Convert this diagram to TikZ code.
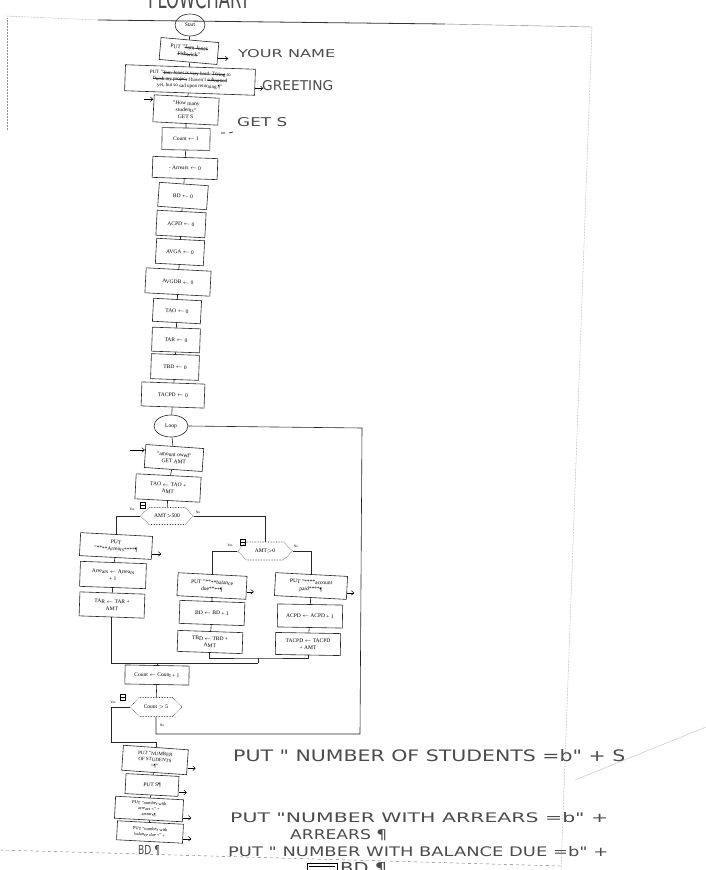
\documentclass[tikz,border=0pt]{standalone}
\usepackage{fontspec}
\setmainfont{Liberation Serif}
\newfontfamily\handfont{DejaVu Sans}
\usepackage{graphicx}
\usetikzlibrary{shapes.geometric,shapes.symbols,arrows.meta}
\tikzset{
  >=latex,
}
\newcommand{\boxfont}{\fontsize{5.5}{6.8}\selectfont}
\newcommand{\hw}[3]{\resizebox{#1pt}{#2pt}{\handfont #3}}
\newsavebox{\strkbox}
\newcommand{\strk}[1]{\sbox{\strkbox}{#1}\rlap{\raisebox{.55ex}{\rule{\wd\strkbox}{.5pt}}}\usebox{\strkbox}}
\tikzstyle{proc}=[draw=black!85,line width=.6pt,font=\boxfont,align=center,inner sep=1pt,minimum width=48pt,minimum height=22pt]
\tikzstyle{term}=[proc,ellipse,minimum width=30pt,minimum height=22pt]
\tikzstyle{test}=[draw=black!80,densely dotted,line width=.6pt,font=\boxfont,signal,signal to=west and east,inner sep=1pt,minimum height=17pt]
\tikzstyle{flow}=[line width=.6pt,black!85]
\tikzstyle{iomark}=[line width=.5pt,-{Straight Barb[length=2.5pt,width=4.5pt]}]
\tikzstyle{ans}=[font=\fontsize{3.5}{4}\selectfont,inner sep=0pt]
\tikzstyle{hand}=[inner sep=0pt,anchor=west,text=black!70]
\tikzstyle{pageedge}=[black!45,densely dotted,line width=.5pt]

\begin{document}
\begin{tikzpicture}[x=1pt,y=-1pt]
  \useasboundingbox (0,0) rectangle (706,870);
  \fill[white] (0,0) rectangle (706,870);
  \clip (0,0) rectangle (706,870);

  % page edges of the scan
  \draw[pageedge] (6,16) -- (98,20);
  \draw[pageedge] (7,18) -- (7,130);
  \draw[black!80,line width=.8pt] (98,20) -- (445,24);
  \draw[black!50,line width=.4pt] (445,24) -- (592,27);
  \draw[pageedge] (592,27) -- (561,870);
  \draw[black!55,dashed,line width=.4pt] (0,850) -- (561,866);
  \draw[black!25,line width=.4pt] (575,780) -- (706,727);
  \node[hand,anchor=south west] (title) at (148,9) {\hw{102}{20}{FLOWCHART}};

  % set up
  \node[term] (start) at (190,25) {Start};
  \node[proc,rotate=-5,minimum width=58pt] (putname) at (189,51) {PUT "\strk{Tom Jones}\\\strk{Fishwick}"};
  \node[proc,rotate=-2,minimum width=130pt,minimum height=26pt,font=\fontsize{5}{6.2}\selectfont] (putgreet) at (190,80)
    {PUT "\strk{Tom Jones is very hard. Trying} to\\\strk{finish my project} I haven't \strk{submitted}\\yet, but so sad upon returning.¶"};
  \node[proc,rotate=-3,minimum width=65pt,minimum height=27pt] (getS) at (186,110) {"How many\\students"\\GET S};
  \node[proc,rotate=-1] (cnt1) at (186,139) {Count $\gets$ 1};
  \node[proc,rotate=-2,minimum width=65pt,minimum height=21pt] (arr0) at (185,168) {- Arrears $\gets$ 0};
  \node[proc,rotate=-4,minimum width=49pt,minimum height=24pt] (bd0) at (183,196) {BD $\gets$ 0};
  \node[proc,rotate=-3,minimum width=49pt,minimum height=25pt] (acpd0) at (181,224) {ACPD $\gets$ 0};
  \node[proc,rotate=-3,minimum height=25pt] (avga0) at (180,252) {AVGA $\gets$ 0};
  \node[proc,rotate=-3,minimum width=65pt,minimum height=25pt] (avgdb0) at (178,282) {AVGDB $\gets$ 0};
  \node[proc,rotate=-3,minimum height=23pt] (tao0) at (177,311) {TAO $\gets$ 0};
  \node[proc,rotate=-2,minimum height=24pt] (tar0) at (176,340) {TAR $\gets$ 0};
  \node[proc,rotate=-2,minimum height=25pt] (tbd0) at (175,367) {TBD $\gets$ 0};
  \node[proc,rotate=-2,minimum width=63pt,minimum height=24pt] (tacpd0) at (173,395) {TACPD $\gets$ 0};

  % loop body
  \node[term,minimum width=34pt] (loop) at (171,426) {Loop};
  \node[proc,rotate=-4,minimum width=58pt,minimum height=23pt] (getamt) at (174,458) {"amount owed"\\GET AMT};
  \node[proc,rotate=-3,minimum width=65pt,minimum height=25pt] (taoadd) at (168,488) {TAO $\gets$ TAO +\\AMT};
  \node[test,minimum width=53pt] (amt500) at (167,516) {AMT$>$500};
  \node[proc,rotate=-3,minimum width=72pt,minimum height=23pt] (putarr) at (116,546) {PUT\\"****Arrears****¶};
  \node[proc,rotate=-2,minimum width=66pt,minimum height=25pt] (arrinc) at (113,575) {Arrears $\gets$ Arrears\\+ 1};
  \node[proc,rotate=-2,minimum width=65pt,minimum height=24pt] (taradd) at (112,605) {TAR $\gets$ TAR +\\AMT};
  \node[test,minimum width=55pt,minimum height=18pt] (amt0) at (265,551) {AMT$>$0};
  \node[proc,rotate=-3,minimum width=69pt,minimum height=23pt] (putbal) at (212,586) {PUT "****balance\\due****¶};
  \node[proc,rotate=-2,minimum width=65pt,minimum height=23pt] (bdinc) at (212,613) {BD $\gets$ BD + 1};
  \node[proc,rotate=-2,minimum width=65pt,minimum height=21pt] (tbdadd) at (210,642) {TBD $\gets$ TBD +\\AMT};
  \node[proc,rotate=-3,minimum width=72pt,minimum height=23pt] (putpaid) at (311,586) {PUT "****account\\paid****¶};
  \node[proc,rotate=-1,minimum width=65pt,minimum height=23pt] (acpdinc) at (310,616) {ACPD $\gets$ ACPD + 1};
  \node[proc,rotate=-1,minimum width=65pt,minimum height=22pt] (tacpdadd) at (308,644) {TACPD $\gets$ TACPD\\+ AMT};
  \node[proc,rotate=-1,minimum width=64pt,minimum height=19pt] (cntinc) at (157,675) {Count $\gets$ Count + 1};
  \node[test,minimum width=52pt,minimum height=19pt] (cnt5) at (156,707) {Count $>$ 5};

  % results
  \node[proc,rotate=-4,minimum width=65pt,minimum height=25pt,font=\fontsize{5}{6}\selectfont] (putnum) at (155,760) {PUT "NUMBER\\OF STUDENTS\\=¶"};
  \node[proc,rotate=-3,minimum width=53pt,minimum height=20pt] (puts) at (152,785) {PUT S¶};
  \node[proc,rotate=-3,minimum width=68pt,minimum height=22pt,font=\fontsize{4.5}{5.6}\selectfont] (putnarr) at (149,809) {PUT "number with\\arrears =" +\\arrears¶};
  \node[proc,rotate=-3,minimum width=66pt,minimum height=19pt,font=\fontsize{4.5}{5.6}\selectfont] (putnbd) at (150,832) {PUT "number with\\balance due =" +};
  \node[hand] (bdend) at (138,851) {\hw{22}{9}{BD ¶}};

  % connectors
  \foreach \a/\b in {start/putname,putname/putgreet,putgreet/getS,getS/cnt1,cnt1/arr0,arr0/bd0,bd0/acpd0,acpd0/avga0,avga0/avgdb0,avgdb0/tao0,tao0/tar0,tar0/tbd0,tbd0/tacpd0,tacpd0/loop,loop/getamt,getamt/taoadd,taoadd/amt500,putarr/arrinc,arrinc/taradd,putbal/bdinc,bdinc/tbdadd,putpaid/acpdinc,acpdinc/tacpdadd,cntinc/cnt5,putnum/puts,puts/putnarr,putnarr/putnbd}
    \draw[flow] (\a) -- (\b);
  \draw[flow] (amt500.west) -| (putarr.north);
  \draw[flow] (amt500.east) -| (amt0.north);
  \draw[flow] (amt0.west) -| (putbal.north);
  \draw[flow] (amt0.east) -| (putpaid.north);
  \coordinate (mrgA) at (258,658);
  \coordinate (mrgB) at (258,663);
  \draw[flow] (tbdadd.south) |- (mrgA) -| (tacpdadd.south);
  \draw[flow] (mrgA) -- (mrgB);
  \draw[flow] (taradd.south) |- (mrgB);
  \draw[flow] (cntinc.north) -- (cntinc.north |- mrgB);
  \coordinate (yesbend) at (111,742);
  \draw[flow] (cnt5.west) -| (yesbend) -| (putnum.north);
  \coordinate (rtbot) at (360,734);
  \coordinate (rttop) at (362,428);
  \draw[flow] (cnt5.south) |- (rtbot) -- (rttop) -- (loop.east);

  % yes / no marks
  \node[ans] (y500) at (132,509) {Yes};
  \node[ans] (n500) at (198,512) {No};
  \node[ans] (y0) at (230,545) {Yes};
  \node[ans] (n0) at (296,546) {No};
  \node[ans] (y5) at (113,702) {Yes};
  \node[ans] (n5) at (162,725) {No};
  \foreach \p in {(140,502),(240,539),(120,694)}
    \draw[line width=.4pt] \p rectangle ++(5,6) ++(0,-3) -- ++(-5,0);

  % input / output marks
  \draw[iomark] ([yshift=-5pt]putname.east) -- ++(10,0);
  \draw[iomark] ([yshift=-6pt]putgreet.east) -- ++(8,0);
  \draw[iomark] ([yshift=9pt]getS.west) ++(-9,0) -- ++(9,0);
  \draw[iomark] ([yshift=6pt]getamt.west) ++(-15,0) -- ++(15,0);
  \draw[iomark] ([yshift=-6pt]putarr.east) -- ++(9,0);
  \draw[iomark] ([yshift=-4pt]putbal.east) -- ++(7,0);
  \draw[iomark] ([yshift=-5pt]putpaid.east) -- ++(7,0);
  \draw[iomark] ([yshift=-6pt]putnum.east) -- ++(8,0);
  \draw[iomark] ([yshift=-6pt]puts.east) -- ++(8,0);
  \draw[iomark] ([yshift=-7pt]putnarr.east) -- ++(8,0);
  \draw[iomark] ([yshift=-5pt]putnbd.east) -- ++(8,0);

  % handwritten notes
  \node[hand] (nname) at (238,54) {\hw{97}{8}{YOUR NAME}};
  \node[hand] (ngreet) at (262,86) {\hw{71}{10}{GREETING}};
  \node[hand] (ngets) at (237,122) {\hw{50}{9}{GET S}};
  \draw[line width=.6pt] (221,133) -- (225,133) (229,133) -- (233,132);
  \node[hand] (nstud) at (233,756) {\hw{392}{12}{PUT " NUMBER OF STUDENTS =b" + S}};
  \node[hand] (narr) at (230,818) {\hw{378}{10}{PUT "NUMBER WITH ARREARS =b" +}};
  \node[hand] (narr2) at (290,835) {\hw{97}{10}{ARREARS ¶}};
  \node[hand] (nbal) at (228,852) {\hw{380}{10}{PUT " NUMBER WITH BALANCE DUE =b" +}};
  \draw[line width=.8pt] (307,863) rectangle (337,873) (309,866) -- (335,866);
  \node[hand] (nbal2) at (340,869) {\hw{47}{11}{BD ¶}};
\end{tikzpicture}
\end{document}
